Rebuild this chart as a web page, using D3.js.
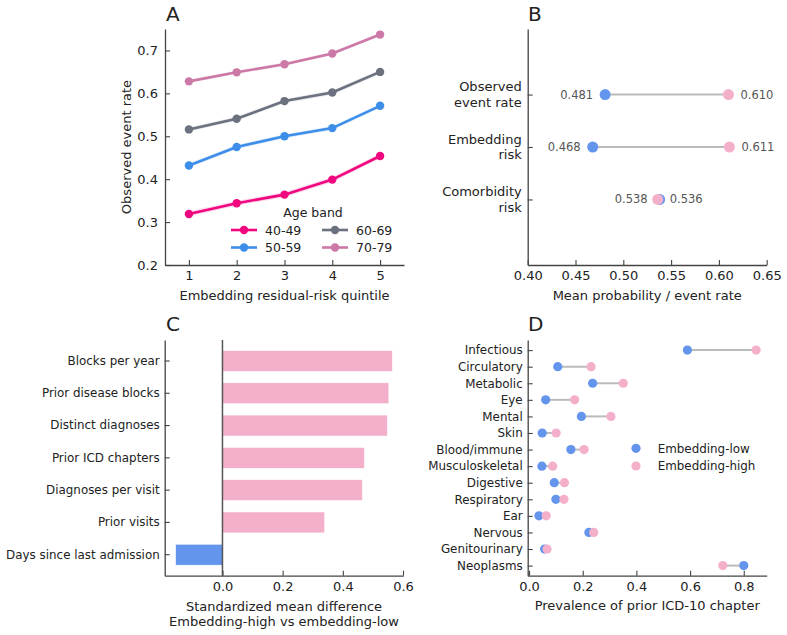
<!DOCTYPE html>
<html>
<head>
<meta charset="utf-8">
<script src="https://cdn.jsdelivr.net/npm/d3@7"></script>
<style>
  body { margin: 0; background: #fff; }
  svg text { font-family: "DejaVu Sans", sans-serif; fill: #222; }
</style>
</head>
<body>
<div id="viz"></div>
<script>
// ---- data ----
// panel A: observed event rate by residual-risk quintile and age band
var quintiles = [1, 2, 3, 4, 5];
var ageBands = ['40-49', '50-59', '60-69', '70-79'];
var rate4049 = [0.319, 0.344, 0.364, 0.399, 0.454];
var rate5059 = [0.432, 0.475, 0.500, 0.519, 0.571];
var rate6069 = [0.516, 0.541, 0.582, 0.602, 0.650];
var rate7079 = [0.628, 0.649, 0.668, 0.693, 0.737];
var bandHalfWidth = [0.006, 0.005, 0.005, 0.004];
var ageColors = ['#f0067f', '#3d8ee8', '#6b717e', '#cc79a7'];

// panel B: group means
var bCategories = [['Observed', 'event rate'], ['Embedding', 'risk'], ['Comorbidity', 'risk']];
var bLow = [0.481, 0.468, 0.538];
var bHigh = [0.610, 0.611, 0.536];
var bTicks = [0.40, 0.45, 0.50, 0.55, 0.60, 0.65];

// panel C: standardized mean differences
var cFeatures = ['Blocks per year', 'Prior disease blocks', 'Distinct diagnoses', 'Prior ICD chapters',
                 'Diagnoses per visit', 'Prior visits', 'Days since last admission'];
var cSmd = [0.565, 0.553, 0.548, 0.472, 0.465, 0.340, -0.156];
var cTicks = [0.0, 0.2, 0.4, 0.6];

// panel D: prevalence of prior ICD-10 chapters
var dChapters = ['Infectious', 'Circulatory', 'Metabolic', 'Eye', 'Mental', 'Skin', 'Blood/immune',
                 'Musculoskeletal', 'Digestive', 'Respiratory', 'Ear', 'Nervous', 'Genitourinary', 'Neoplasms'];
var dLow  = [0.590, 0.107, 0.237, 0.062, 0.195, 0.049, 0.156, 0.048, 0.094, 0.100, 0.037, 0.223, 0.058, 0.800];
var dHigh = [0.846, 0.231, 0.351, 0.170, 0.305, 0.101, 0.205, 0.088, 0.132, 0.130, 0.064, 0.241, 0.067, 0.722];
var dTicks = [0.0, 0.2, 0.4, 0.6, 0.8];

var lowColor = '#6495ed';
var highColor = '#f4afca';
var spineColor = '#444';

var svg = d3.select('#viz').append('svg')
  .attr('width', 787)
  .attr('height', 635);
svg.append('rect').attr('width', 787).attr('height', 635).attr('fill', '#fff');

// style an axis group: inward ticks, dark spine
function styleAxis(g, fontSize) {
  g.select('.domain').attr('stroke', spineColor).attr('stroke-width', 1.3);
  g.selectAll('.tick line').attr('stroke', spineColor).attr('stroke-width', 1.1);
  g.selectAll('.tick text')
    .attr('font-family', '"DejaVu Sans", sans-serif')
    .attr('font-size', fontSize || 13)
    .attr('fill', '#222');
}

function panelLetter(x, y, letter) {
  svg.append('text').attr('x', x).attr('y', y)
    .attr('font-size', 20).text(letter);
}

// ---------------- panel A ----------------
var aL = 165, aR = 404, aT = 29, aB = 265;
var ax = d3.scaleLinear().domain([0.5, 5.5]).range([aL, aR]);
var ay = d3.scaleLinear().domain([0.2, 0.75]).range([aB, aT]);

svg.append('g').attr('transform', 'translate(0,' + aB + ')')
  .call(d3.axisBottom(ax).tickValues(quintiles).tickFormat(d3.format('d')).tickSize(-5).tickSizeOuter(0).tickPadding(6))
  .call(styleAxis);
svg.append('g').attr('transform', 'translate(' + aL + ',0)')
  .call(d3.axisLeft(ay).tickValues([0.2, 0.3, 0.4, 0.5, 0.6, 0.7]).tickFormat(d3.format('.1f')).tickSize(-5).tickSizeOuter(0).tickPadding(7))
  .call(styleAxis);

var aSeries = [rate4049, rate5059, rate6069, rate7079];
var aLine = d3.line().x(function(d, i) { return ax(quintiles[i]); }).y(function(d) { return ay(d); });

aSeries.forEach(function(vals, k) {
  var area = d3.area()
    .x(function(d, i) { return ax(quintiles[i]); })
    .y0(function(d) { return ay(d - bandHalfWidth[k]); })
    .y1(function(d) { return ay(d + bandHalfWidth[k]); });
  svg.append('path').datum(vals).attr('d', area)
    .attr('fill', ageColors[k]).attr('opacity', 0.15);
  svg.append('path').datum(vals).attr('d', aLine)
    .attr('fill', 'none').attr('stroke', ageColors[k]).attr('stroke-width', 2.6);
  svg.selectAll(null).data(vals).enter().append('circle')
    .attr('cx', function(d, i) { return ax(quintiles[i]); })
    .attr('cy', function(d) { return ay(d); })
    .attr('r', 4.2)
    .attr('fill', ageColors[k]);
});

// legend
var legA = svg.append('g');
legA.append('text').attr('x', 313).attr('y', 217).attr('text-anchor', 'middle')
  .attr('font-size', 12.5).text('Age band');
ageBands.forEach(function(name, k) {
  var col = Math.floor(k / 2), row = k % 2;
  var x0 = 231 + col * 91, y0 = 230 + row * 17.5;
  legA.append('line').attr('x1', x0).attr('x2', x0 + 26).attr('y1', y0).attr('y2', y0)
    .attr('stroke', ageColors[k]).attr('stroke-width', 2.6);
  legA.append('circle').attr('cx', x0 + 13).attr('cy', y0).attr('r', 4.2).attr('fill', ageColors[k]);
  legA.append('text').attr('x', x0 + 34).attr('y', y0 + 4.5).attr('font-size', 12.5).text(name);
});

svg.append('text')
  .attr('transform', 'translate(131,' + ((aT + aB) / 2) + ') rotate(-90)')
  .attr('text-anchor', 'middle').attr('font-size', 13).text('Observed event rate');
svg.append('text').attr('x', (aL + aR) / 2).attr('y', 300).attr('text-anchor', 'middle')
  .attr('font-size', 13).text('Embedding residual-risk quintile');
panelLetter(166, 21, 'A');

// ---------------- panel B ----------------
var bL = 527.7, bR = 766.7, bT = 29, bB = 265;
var bx = d3.scaleLinear().domain([0.40, 0.65]).range([bL, bR]);
var by = d3.scalePoint().domain(d3.range(bCategories.length)).range([bT, bB]).padding(1.25);

svg.append('g').attr('transform', 'translate(0,' + bB + ')')
  .call(d3.axisBottom(bx).tickValues(bTicks).tickFormat(d3.format('.2f')).tickSize(-5).tickSizeOuter(0).tickPadding(6))
  .call(styleAxis);
svg.append('g').attr('transform', 'translate(' + bL + ',0)')
  .call(d3.axisLeft(by).tickFormat('').tickSize(-5).tickSizeOuter(0))
  .call(styleAxis);

bCategories.forEach(function(lines, i) {
  var t = svg.append('text').attr('text-anchor', 'end').attr('font-size', 13);
  lines.forEach(function(s, j) {
    t.append('tspan').attr('x', bL - 6)
      .attr('y', by(i) + (j - (lines.length - 1) / 2) * 15.5 + 4.5).text(s);
  });
});

bCategories.forEach(function(c, i) {
  svg.append('line').attr('x1', bx(bLow[i])).attr('x2', bx(bHigh[i]))
    .attr('y1', by(i)).attr('y2', by(i))
    .attr('stroke', '#bbb').attr('stroke-width', 2);
  svg.append('circle').attr('cx', bx(bLow[i])).attr('cy', by(i)).attr('r', 5.5).attr('fill', lowColor);
  svg.append('circle').attr('cx', bx(bHigh[i])).attr('cy', by(i)).attr('r', 5.5).attr('fill', highColor);
  svg.append('text').attr('x', bx(bLow[i]) - 12).attr('y', by(i) + 4).attr('text-anchor', 'end')
    .attr('font-size', 11.5).style('fill', '#555').text(d3.format('.3f')(bLow[i]));
  svg.append('text').attr('x', bx(bHigh[i]) + 12).attr('y', by(i) + 4)
    .attr('font-size', 11.5).style('fill', '#555').text(d3.format('.3f')(bHigh[i]));
});

svg.append('text').attr('x', (bL + bR) / 2).attr('y', 300).attr('text-anchor', 'middle')
  .attr('font-size', 13).text('Mean probability / event rate');
panelLetter(528, 21, 'B');

// ---------------- panel C ----------------
var cL = 164.7, cR = 403.3, cT = 340, cB = 575.7;
var cx = d3.scaleLinear().domain([-0.192, 0.601]).range([cL, cR]);
var cy = d3.scaleBand().domain(cFeatures).range([cT, cB]).paddingInner(0.35).paddingOuter(0.325);

svg.selectAll('.barC').data(cSmd).enter().append('rect')
  .attr('class', 'barC')
  .attr('x', function(d) { return cx(Math.min(0, d)); })
  .attr('width', function(d) { return Math.abs(cx(d) - cx(0)); })
  .attr('y', function(d, i) { return cy(cFeatures[i]); })
  .attr('height', cy.bandwidth())
  .attr('fill', function(d) { return d < 0 ? lowColor : highColor; })
  .attr('stroke', '#fff').attr('stroke-width', 0.6);

svg.append('line').attr('x1', cx(0)).attr('x2', cx(0)).attr('y1', cT).attr('y2', cB)
  .attr('stroke', '#555').attr('stroke-width', 1.5);

svg.append('g').attr('transform', 'translate(0,' + cB + ')')
  .call(d3.axisBottom(cx).tickValues(cTicks).tickFormat(d3.format('.1f')).tickSize(-5).tickSizeOuter(0).tickPadding(6))
  .call(styleAxis);
svg.append('g').attr('transform', 'translate(' + cL + ',0)')
  .call(d3.axisLeft(cy).tickSize(-5).tickSizeOuter(0).tickPadding(5))
  .call(styleAxis, 11.9);

svg.append('text').attr('x', (cL + cR) / 2).attr('y', 610.5).attr('text-anchor', 'middle')
  .attr('font-size', 13).text('Standardized mean difference');
svg.append('text').attr('x', (cL + cR) / 2).attr('y', 626).attr('text-anchor', 'middle')
  .attr('font-size', 13).text('Embedding-high vs embedding-low');
panelLetter(166, 331, 'C');

// ---------------- panel D ----------------
var dL = 527.7, dR = 766.7, dT = 340, dB = 575.7;
var dx = d3.scaleLinear().domain([-0.005, 0.8855]).range([dL, dR]);
var dy = d3.scalePoint().domain(dChapters).range([dT, dB]).padding(0.61);

svg.append('g').attr('transform', 'translate(0,' + dB + ')')
  .call(d3.axisBottom(dx).tickValues(dTicks).tickFormat(d3.format('.1f')).tickSize(-5).tickSizeOuter(0).tickPadding(6))
  .call(styleAxis);
svg.append('g').attr('transform', 'translate(' + dL + ',0)')
  .call(d3.axisLeft(dy).tickSize(-5).tickSizeOuter(0).tickPadding(5))
  .call(styleAxis, 11.9);

dChapters.forEach(function(c, i) {
  svg.append('line').attr('x1', dx(dLow[i])).attr('x2', dx(dHigh[i]))
    .attr('y1', dy(c)).attr('y2', dy(c))
    .attr('stroke', '#bbb').attr('stroke-width', 2);
});
svg.selectAll('.dotLow').data(dLow).enter().append('circle')
  .attr('class', 'dotLow')
  .attr('cx', function(d) { return dx(d); })
  .attr('cy', function(d, i) { return dy(dChapters[i]); })
  .attr('r', 4.6).attr('fill', lowColor);
svg.selectAll('.dotHigh').data(dHigh).enter().append('circle')
  .attr('class', 'dotHigh')
  .attr('cx', function(d) { return dx(d); })
  .attr('cy', function(d, i) { return dy(dChapters[i]); })
  .attr('r', 4.6).attr('fill', highColor);

// legend
[['Embedding-low', lowColor], ['Embedding-high', highColor]].forEach(function(e, k) {
  var y0 = 448.3 + k * 17.7;
  svg.append('circle').attr('cx', 636).attr('cy', y0).attr('r', 4.6).attr('fill', e[1]);
  svg.append('text').attr('x', 657.7).attr('y', y0 + 4.3).attr('font-size', 11.9).text(e[0]);
});

svg.append('text').attr('x', (dL + dR) / 2).attr('y', 610).attr('text-anchor', 'middle')
  .attr('font-size', 13).text('Prevalence of prior ICD-10 chapter');
panelLetter(528, 331, 'D');
</script>
</body>
</html>
